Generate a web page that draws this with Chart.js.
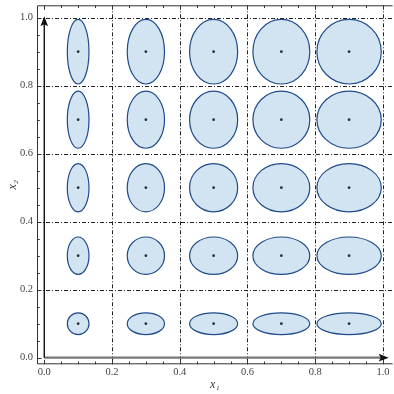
<!DOCTYPE html>
<html>
<head>
<meta charset="utf-8">
<script src="https://cdn.jsdelivr.net/npm/chart.js@4.4.1/dist/chart.umd.min.js"></script>
<style>
  html, body { margin: 0; padding: 0; background: #fff; }
  #wrap { width: 394px; height: 394px; position: relative; }
</style>
</head>
<body>
<div id="wrap"><canvas id="chart"></canvas></div>
<script>
// ellipse centres along each axis
const xCenters = [0.1, 0.3, 0.5, 0.7, 0.9];
const yCenters = [0.1, 0.3, 0.5, 0.7, 0.9];
// half-widths (by column) and half-heights (by row)
const xRadii = [0.032, 0.055, 0.071, 0.084, 0.095];
const yRadii = [0.032, 0.055, 0.071, 0.084, 0.095];
// labelled ticks and dash-dot grid positions
const tickValues = [0, 0.2, 0.4, 0.6, 0.8, 1.0];
const gridValues = [0.2, 0.4, 0.6, 0.8, 1.0];
const minorStep = 0.05;

const points = [];
yCenters.forEach((cy, j) => {
    xCenters.forEach((cx, i) => {
        points.push({ x: cx, y: cy, rx: xRadii[i], ry: yRadii[j] });
    });
});

const serif = "'Liberation Serif', 'DejaVu Serif', serif";

// grid, ellipses, axes with arrows and the inward frame ticks
const ellipsePlugin = {
    id: 'ellipses',
    beforeDatasetsDraw(chart) {
        const { ctx, chartArea: a, scales: { x, y } } = chart;
        ctx.save();

        // dash-dot grid
        ctx.strokeStyle = '#222';
        ctx.lineWidth = 1;
        ctx.setLineDash([4, 2, 1, 2]);
        gridValues.forEach(v => {
            const px = Math.round(x.getPixelForValue(v)) + 0.5;
            ctx.beginPath(); ctx.moveTo(px, a.top); ctx.lineTo(px, a.bottom); ctx.stroke();
            const py = Math.round(y.getPixelForValue(v)) + 0.5;
            ctx.beginPath(); ctx.moveTo(a.left, py); ctx.lineTo(a.right, py); ctx.stroke();
        });
        ctx.setLineDash([]);

        // ellipses
        const meta = chart.getDatasetMeta(0);
        const data = chart.data.datasets[0].data;
        meta.data.forEach((pt, i) => {
            const d = data[i];
            const rxPx = Math.abs(x.getPixelForValue(d.x + d.rx) - x.getPixelForValue(d.x));
            const ryPx = Math.abs(y.getPixelForValue(d.y + d.ry) - y.getPixelForValue(d.y));
            ctx.beginPath();
            ctx.ellipse(pt.x, pt.y, rxPx, ryPx, 0, 0, Math.PI * 2);
            ctx.fillStyle = '#d2e3f2';
            ctx.fill();
            ctx.strokeStyle = '#1f4b8a';
            ctx.lineWidth = 1.2;
            ctx.stroke();
        });

        // axes
        const x0 = x.getPixelForValue(0), y0 = y.getPixelForValue(0);
        const xTip = x.getPixelForValue(1.017), yTip = y.getPixelForValue(1.004);
        ctx.strokeStyle = '#777';
        ctx.lineWidth = 2.2;
        ctx.beginPath(); ctx.moveTo(x0, y0); ctx.lineTo(xTip - 6, y0); ctx.stroke();
        ctx.strokeStyle = '#111';
        ctx.lineWidth = 1.4;
        ctx.beginPath(); ctx.moveTo(x0, y0); ctx.lineTo(x0, yTip + 6); ctx.stroke();

        ctx.fillStyle = '#111';
        ctx.beginPath();
        ctx.moveTo(xTip, y0); ctx.lineTo(xTip - 10, y0 - 3.8); ctx.lineTo(xTip - 8, y0); ctx.lineTo(xTip - 10, y0 + 3.8);
        ctx.closePath(); ctx.fill();
        ctx.beginPath();
        ctx.moveTo(x0, yTip); ctx.lineTo(x0 - 3.8, yTip + 10); ctx.lineTo(x0, yTip + 8); ctx.lineTo(x0 + 3.8, yTip + 10);
        ctx.closePath(); ctx.fill();

        // frame
        ctx.strokeStyle = '#333';
        ctx.lineWidth = 1;
        ctx.beginPath();
        ctx.moveTo(a.right, a.top + 0.5); ctx.lineTo(a.left + 0.5, a.top + 0.5);
        ctx.lineTo(a.left + 0.5, a.bottom - 0.5); ctx.lineTo(a.right, a.bottom - 0.5);
        ctx.stroke();

        // inward frame ticks every 0.05
        for (let k = 0; k <= 20; k++) {
            const v = k * minorStep;
            const len = k % 4 === 0 ? 4.5 : 2.8;
            const px = Math.round(x.getPixelForValue(v)) + 0.5;
            const py = Math.round(y.getPixelForValue(v)) + 0.5;
            ctx.beginPath();
            ctx.moveTo(px, a.bottom); ctx.lineTo(px, a.bottom - len);
            ctx.moveTo(px, a.top); ctx.lineTo(px, a.top + len);
            ctx.moveTo(a.left, py); ctx.lineTo(a.left + len, py);
            ctx.stroke();
        }
        ctx.restore();
    }
};

const setTicks = scale => { scale.ticks = tickValues.map(v => ({ value: v })); };

new Chart(document.getElementById('chart'), {
    type: 'scatter',
    data: {
        datasets: [{
            data: points,
            pointRadius: 1.4,
            pointHoverRadius: 1.4,
            pointBackgroundColor: '#333',
            pointBorderWidth: 0
        }]
    },
    options: {
        responsive: true,
        maintainAspectRatio: false,
        animation: false,
        layout: { padding: { top: 5.3, right: 0, bottom: 0, left: 0 } },
        plugins: { legend: { display: false }, tooltip: { enabled: false } },
        scales: {
            x: {
                type: 'linear',
                min: -0.0215,
                max: 1.0285,
                afterBuildTicks: setTicks,
                afterFit: s => { s.height = 29.7; s.paddingLeft = 0; s.paddingRight = 0; },
                grid: { display: false, drawTicks: false },
                border: { display: false },
                ticks: {
                    autoSkip: false, maxRotation: 0, padding: 2,
                    color: '#444', font: { family: serif, size: 10.5 },
                    callback: v => v.toFixed(1)
                },
                title: {
                    display: true, text: 'x₁', color: '#333',
                    font: { family: serif, size: 12, style: 'italic' },
                    padding: { top: 0, bottom: 1.8 }
                }
            },
            y: {
                type: 'linear',
                min: -0.0195,
                max: 1.0365,
                afterBuildTicks: setTicks,
                afterFit: s => { s.width = 37; s.paddingTop = 0; s.paddingBottom = 0; },
                grid: { display: false, drawTicks: false },
                border: { display: false },
                ticks: {
                    autoSkip: false, padding: 4,
                    color: '#444', font: { family: serif, size: 10.5 },
                    callback: v => v.toFixed(1)
                },
                title: {
                    display: true, text: 'x₂', color: '#333',
                    font: { family: serif, size: 12, style: 'italic' },
                    padding: { top: 5.5, bottom: 0 }
                }
            }
        }
    },
    plugins: [ellipsePlugin]
});
</script>
</body>
</html>
